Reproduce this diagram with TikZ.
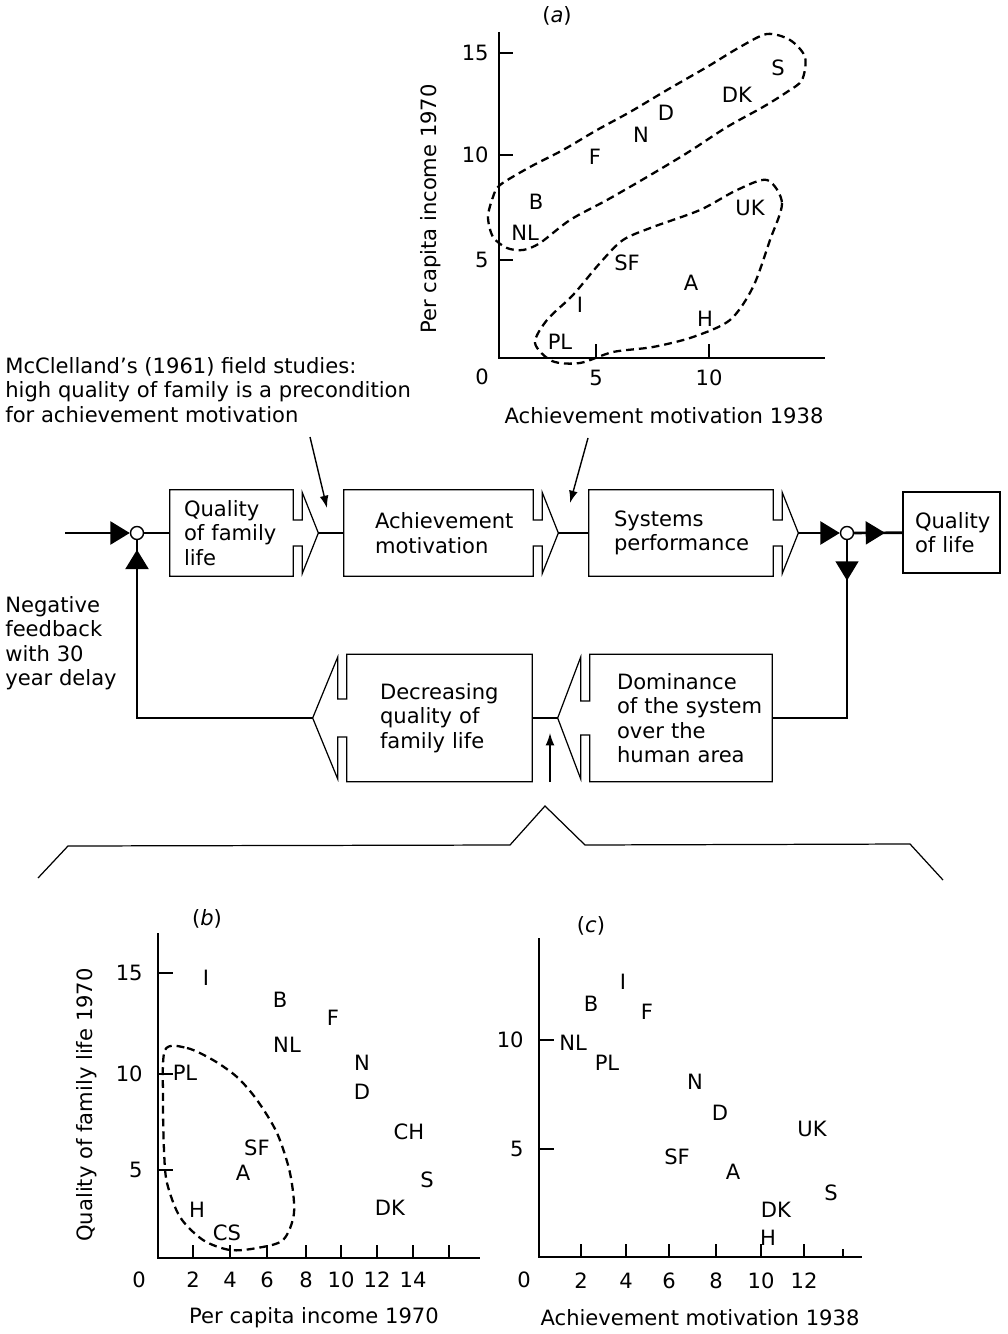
\documentclass[tikz,border=0pt]{standalone}
\usepackage{fontspec}
\setmainfont{DejaVu Sans}
\usetikzlibrary{arrows.meta}
\usetikzlibrary{calc}
\usetikzlibrary{decorations.markings}
\tikzstyle{blockline}=[line width=0.7pt, line join=miter]
\tikzstyle{block}=[inner ysep=0pt, align=left]
\tikzstyle{note}=[inner sep=0pt, align=left, anchor=west]
\tikzstyle{link}=[line width=1.5pt]
\tikzstyle{feed}=[line width=1.2pt]
\tikzstyle{pointer}=[line width=0.8pt, -{Latex[length=7pt, width=5pt]}]
\tikzstyle{sum}=[circle, draw, line width=0.8pt, fill=white, minimum size=0.26cm, inner sep=0pt]
\tikzstyle{tri}=[-{Triangle[length=11pt, width=13pt]}]
\tikzstyle{axisline}=[line width=0.9pt]
\tikzstyle{tickmark}=[line width=0.7pt]
\tikzstyle{num}=[inner sep=0pt]
\tikzstyle{country}=[inner sep=0pt]
\tikzstyle{hull}=[line width=1.3pt, dash pattern=on 4.5pt off 2.8pt]
\tikzset{mid tri/.style={postaction={decorate}, decoration={markings,
  mark=at position #1 with {\arrow{Triangle[length=11pt, width=13pt]}}}}}

% slotted block outline, arrow head pointing right
\newcommand{\slotright}[3]{%
  \draw[blockline] (#1.north west) -- (#1.north east)
    -- ($(#1.east)+(0,-#2)$) -- ++(9,0) -- ($(#1.north east)+(9,3)$)
    -- ($(#1.east)+(9+#3,0)$) coordinate (#1 tip)
    -- ($(#1.south east)+(9,-3)$) -- ($(#1.east)+(9,#2)$) -- ++(-9,0)
    -- (#1.south east) -- (#1.south west) -- cycle;}
% same, arrow head pointing left
\newcommand{\slotleft}[3]{%
  \draw[blockline] (#1.north east) -- (#1.north west)
    -- ($(#1.west)+(0,-#2)$) -- ++(-9,0) -- ($(#1.north west)+(-9,3)$)
    -- ($(#1.west)+(-9-#3,0)$) coordinate (#1 tip)
    -- ($(#1.south west)+(-9,-3)$) -- ($(#1.west)+(-9,#2)$) -- ++(9,0)
    -- (#1.south west) -- (#1.south east) -- cycle;}

\begin{document}
\begin{tikzpicture}[x=0.02cm, y=-0.02cm,
    every node/.append style={font=\fontsize{12}{13.9}\selectfont}]
  \useasboundingbox (0,0) rectangle (1007,1334);

  % (a) income 1970 against achievement motivation 1938
  \node (a-tag) at (557,16) {(\textit{a})};
  \draw[axisline] (499,32) -- (499,358) -- (825,358);
  \foreach \y/\v in {53/15, 155/10, 260/5} {
    \draw[tickmark] (499,\y) -- ++(14,0);
    \node[num, anchor=east] (a-y\v) at (489,\y) {\v};
  }
  \foreach \x/\v in {596/5, 709/10} {
    \draw[tickmark] (\x,358) -- ++(0,-14);
    \node[num] (a-x\v) at (\x,378) {\v};
  }
  \node[num] (a-x0) at (482,377) {0};
  \node[rotate=90] (a-ylab) at (431,209) {Per capita income 1970};
  \node (a-xlab) at (664,416) {Achievement motivation 1938};
  \foreach \l/\x/\y in {S/778/68, DK/737/95, D/666/113, N/641/135, F/595/157,
      B/536/202, NL/525/233, UK/750/208, SF/627/263, A/691/283, I/580/305,
      H/705/319, PL/560/342}
    \node[country] (a-\l) at (\x,\y) {\l};
  \draw[hull] plot[smooth cycle] coordinates {(500,185) (530,167) (563,150)
    (597,130) (630,112) (667,90) (707,67) (740,47) (767,34) (790,40)
    (805,57) (802,80) (787,92) (763,107) (727,127) (687,153) (647,177)
    (607,200) (570,220) (540,243) (523,250) (507,248) (493,237) (488,217)
    (493,197)};
  \draw[hull] plot[smooth cycle] coordinates {(767,180) (782,203) (770,240)
    (753,287) (730,320) (693,337) (653,347) (613,352) (580,363) (552,361)
    (535,343) (547,320) (573,295) (600,263) (623,240) (653,227) (700,210)
    (737,190)};

  % annotations
  \node[note] (mcc) at (5,390) {McClelland's (1961) field studies:\\high quality of family is a precondition\\for achievement motivation};
  \node[note] (neg) at (5,643) {Negative\\feedback\\with 30\\year delay};

  % forward chain
  \node[block, text width=1.90cm, inner xsep=0.28cm, minimum height=1.72cm] (fam) at (231.5,533) {Quality\\of family\\life};
  \node[block, text width=2.54cm, inner xsep=0.62cm, minimum height=1.72cm] (ach) at (438.5,533) {\mbox{Achievement}\\motivation};
  \node[block, text width=2.68cm, inner xsep=0.50cm, minimum height=1.72cm] (sys) at (681,533) {Systems\\\mbox{performance}};
  \node[block, blockline, draw, text width=1.46cm, inner xsep=0.24cm, minimum height=1.62cm] (qol) at (951.5,532.5) {Quality\\of life};
  \slotright{fam}{13}{16}
  \slotright{ach}{13}{16}
  \slotright{sys}{13}{16}

  % feedback chain
  \node[block, text width=2.56cm, inner xsep=0.54cm, minimum height=2.54cm] (dom) at (681,718) {Dominance\\\mbox{of the system}\\over the\\human area};
  \node[block, text width=2.38cm, inner xsep=0.66cm, minimum height=2.54cm] (dec) at (439.5,718) {Decreasing\\quality of\\family life};
  \slotleft{dom}{17}{23}
  \slotleft{dec}{19}{25}

  \node[sum] (in sum) at (137,533) {};
  \node[sum] (out sum) at (847,533) {};

  \coordinate (src) at (65,533);
  \draw[link, tri] (src) -- (in sum);
  \draw[link] (in sum) -- (fam);
  \draw[link] (fam tip) -- (ach);
  \draw[link] (ach tip) -- (sys);
  \draw[link, tri] (sys tip) -- (out sum);
  \draw[link, mid tri=0.64] (out sum) -- (qol);
  \draw[feed, mid tri=0.16] (out sum) |- (dom);
  \draw[link] (dom tip) -- (dec);
  \draw[link, mid tri=0.973] (dec tip) -| (in sum);

  % pointers into the chain
  \coordinate (mcc end) at (310,437);
  \coordinate (mcc hit) at (327,508);
  \draw[pointer] (mcc end) -- (mcc hit);
  \coordinate (a end) at (588,438);
  \coordinate (a hit) at (570,503);
  \draw[pointer] (a end) -- (a hit);
  \coordinate (b end) at (550,782);
  \coordinate (b hit) at (550,733);
  \draw[pointer] (b end) -- (b hit);

  % bracket opening onto (b) and (c)
  \draw[blockline] (38,878) -- (68,846) -- (510,845) -- (545,806) -- (585,845)
    -- (910,844) -- (943,880);

  % (b) quality of family life against income
  \node (b-tag) at (207,919) {(\textit{b})};
  \draw[axisline] (158,933) -- (158,1258) -- (480,1258);
  \foreach \y/\v in {973/15, 1074/10, 1170/5} {
    \draw[tickmark] (158,\y) -- ++(15,0);
    \node[num, anchor=east] (b-y\v) at (143,\y) {\v};
  }
  \foreach \x/\v in {193/2, 230/4, 267/6, 306/8, 341/10, 377/12, 413/14} {
    \draw[tickmark] (\x,1258) -- ++(0,-13);
    \node[num] (b-x\v) at (\x,1280) {\v};
  }
  \draw[tickmark] (449,1258) -- ++(0,-13);
  \node[num] (b-x0) at (139,1280) {0};
  \node[rotate=90] (b-ylab) at (87,1105) {Quality of family life 1970};
  \node (b-xlab) at (314,1318) {Per capita income 1970};
  \foreach \l/\x/\y in {I/206/978, B/280/1000, F/333/1018, NL/287/1045,
      N/362/1063, D/362/1092, PL/185/1073, CH/409/1132, SF/257/1148,
      A/243/1173, S/427/1180, DK/390/1208, H/197/1210, CS/227/1233}
    \node[country] (b-\l) at (\x,\y) {\l};
  \draw[hull] plot[smooth cycle] coordinates {(165,1050) (187,1048) (213,1060)
    (237,1077) (257,1100) (277,1133) (290,1173) (294,1213) (283,1240)
    (257,1248) (230,1250) (203,1240) (180,1217) (167,1183) (164,1150)
    (163,1100)};

  % (c) quality of family life against achievement motivation
  \node (c-tag) at (591,926) {(\textit{c})};
  \draw[axisline] (539,938) -- (539,1257) -- (862,1257);
  \foreach \y/\v in {1040/10, 1149/5} {
    \draw[tickmark] (539,\y) -- ++(15,0);
    \node[num, anchor=east] (c-y\v) at (524,\y) {\v};
  }
  \foreach \x/\v in {581/2, 626/4, 669/6, 716/8, 761/10, 804/12} {
    \draw[tickmark] (\x,1257) -- ++(0,-13);
    \node[num] (c-x\v) at (\x,1281) {\v};
  }
  \draw[tickmark] (843,1257) -- ++(0,-8);
  \node[num] (c-x0) at (524,1280) {0};
  \node (c-xlab) at (700,1318) {Achievement motivation 1938};
  \foreach \l/\x/\y in {I/623/982, B/591/1004, F/647/1012, NL/573/1043,
      PL/607/1063, N/695/1082, D/720/1113, UK/812/1129, SF/677/1157,
      A/733/1172, S/831/1193, DK/776/1210, H/768/1238}
    \node[country] (c-\l) at (\x,\y) {\l};
\end{tikzpicture}
\end{document}
